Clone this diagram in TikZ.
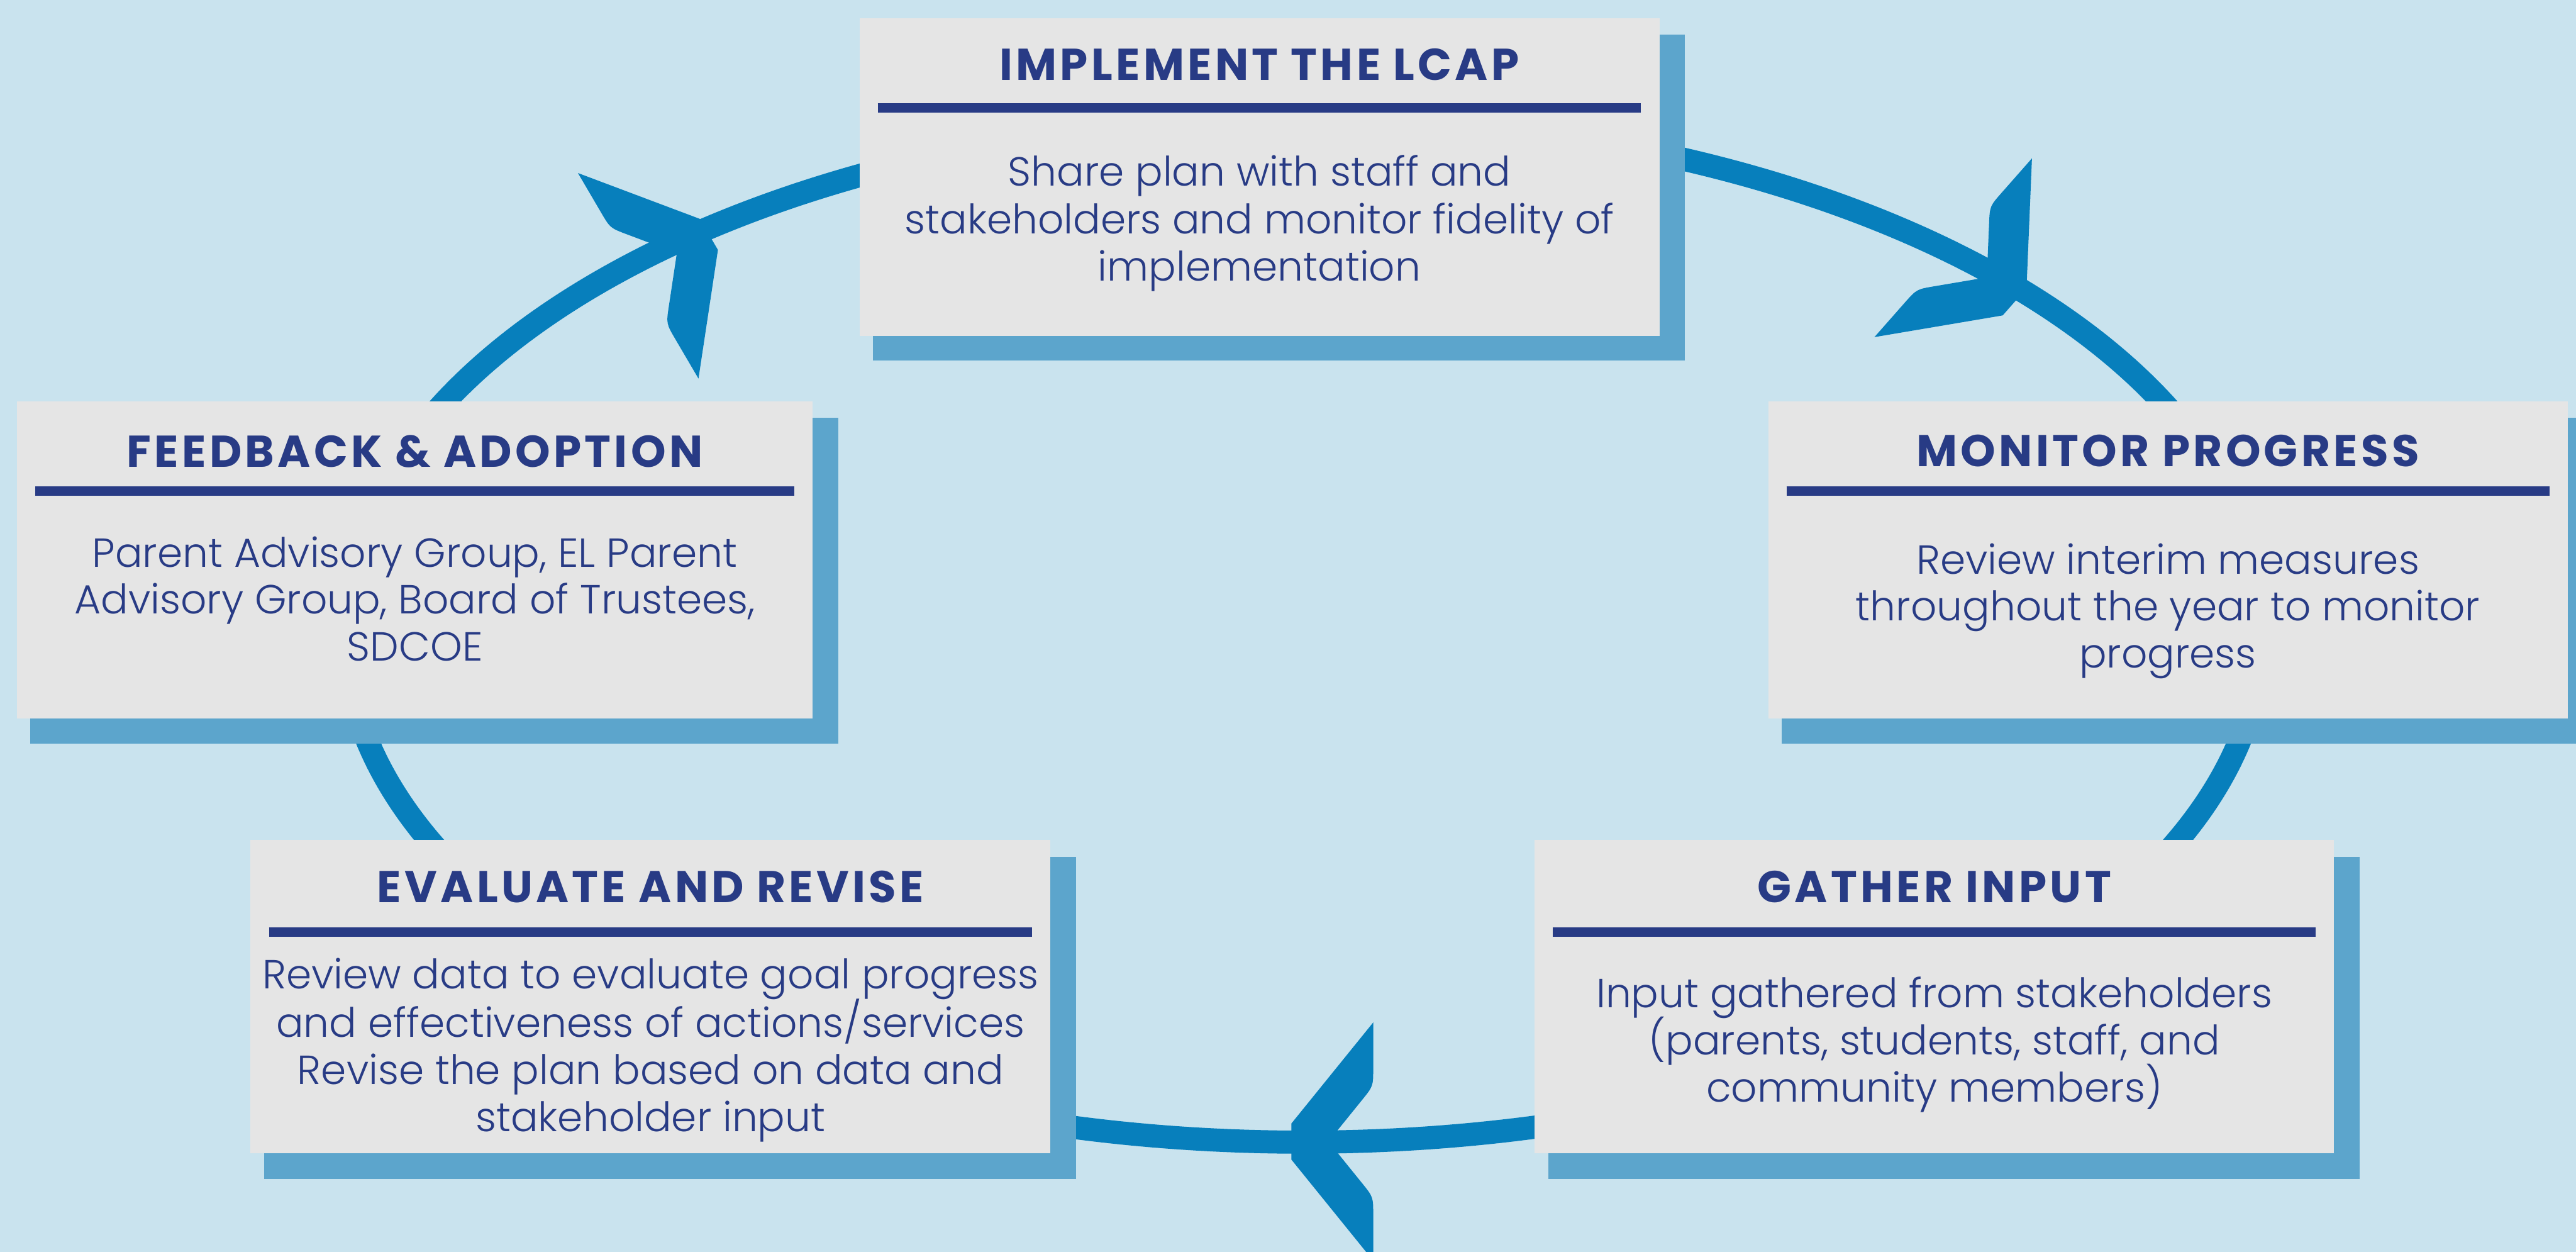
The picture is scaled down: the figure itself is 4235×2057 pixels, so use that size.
\documentclass[tikz,border=0pt]{standalone}
\usepackage{fontspec}
\setmainfont{Poppins}
\newfontfamily\titlefont{Poppins}[LetterSpace=7.5]
\newfontfamily\bodyfont{Poppins}[UprightFont=* Light]
\usetikzlibrary{fit}
\definecolor{bgblue}{HTML}{C9E3EE}
\definecolor{cardgray}{HTML}{E5E5E5}
\definecolor{shadowblue}{HTML}{5CA5CC}
\definecolor{ringblue}{HTML}{077FBC}
\definecolor{navy}{HTML}{283B85}
\begin{document}
\begin{tikzpicture}[x=0.25pt, y=-0.25pt,
  card/.style={fill=cardgray, inner sep=0pt, draw=none},
  cardshadow/.style={fill=shadowblue},
  headline/.style={font=\titlefont\fontsize{18.3}{22}\selectfont\bfseries, text=navy, anchor=base, inner sep=0pt},
  bodyline/.style={font=\bodyfont\fontsize{16.7}{19.5}\selectfont, text=navy, anchor=base, inner sep=0pt},
  rule/.style={draw=navy, line width=3.9pt},
  ring/.style={draw=ringblue, line width=9.5pt},
  chevron/.pic={
    \fill[ringblue] (-24,29.6) -- (-158.6,195.8) -- (-158.6,121)
      .. controls (-158.6,91) .. (-139.7,67.7) -- (-84.9,0)
      -- (-139.7,-67.7) .. controls (-158.6,-91) .. (-158.6,-121)
      -- (-158.6,-195.8) -- (-24,-29.6) -- cycle;
  }
]
% canvas
\useasboundingbox (0,0) rectangle (4235,2057);
\clip (0,0) rectangle (4235,2057);
\fill[bgblue] (0,0) rectangle (4235,2057);

% cycle ring with its arrowheads (clockwise flow)
\draw[ring] (2143,1035) ellipse [x radius=1576, y radius=842];
\pic[rotate=30.4] at (1186,373) {chevron};
\pic[rotate=-41.4] at (3330,512) {chevron};
\pic[rotate=180] at (2099,1876) {chevron};

% ---- Implement the LCAP
\fill[cardshadow] (1435,57) rectangle (2770,592);
\node[card, fit={(1413,30)(2728,552)}] (implement) {};
\node[headline] (implementT) at (2070.5,132) {IMPLEMENT THE LCAP};
\draw[rule] (1443,177) -- (2697,177);
\node[bodyline] (implement1) at (2070.5,306) {Share plan with staff and};
\node[bodyline] (implement2) at (2070.5,384) {stakeholders and monitor fidelity of};
\node[bodyline] (implement3) at (2070.5,462) {implementation};

% ---- Feedback & Adoption
\fill[cardshadow] (50,687) rectangle (1378,1222);
\node[card, fit={(28,660)(1336,1181)}] (feedback) {};
\node[headline] (feedbackT) at (682,768) {FEEDBACK \& ADOPTION};
\draw[rule] (58,807) -- (1306,807);
\node[bodyline] (feedback1) at (682,932) {Parent Advisory Group, EL Parent};
\node[bodyline] (feedback2) at (682,1009) {Advisory Group, Board of Trustees,};
\node[bodyline] (feedback3) at (682,1086) {SDCOE};

% ---- Monitor Progress
\fill[cardshadow] (2929,687) rectangle (4263,1222);
\node[card, fit={(2907,660)(4221,1181)}] (monitor) {};
\node[headline] (monitorT) at (3564,767) {MONITOR PROGRESS};
\draw[rule] (2937,807) -- (4191,807);
\node[bodyline] (monitor1) at (3564,943) {Review interim measures};
\node[bodyline] (monitor2) at (3564,1020) {throughout the year to monitor};
\node[bodyline] (monitor3) at (3564,1097) {progress};

% ---- Evaluate and Revise
\fill[cardshadow] (434,1408) rectangle (1769,1938);
\node[card, fit={(412,1380)(1727,1895)}] (evaluate) {};
\node[headline] (evaluateT) at (1069.5,1483) {EVALUATE AND REVISE};
\draw[rule] (442,1532) -- (1697,1532);
\node[bodyline] (evaluate1) at (1069.5,1625) {Review data to evaluate goal progress};
\node[bodyline] (evaluate2) at (1069.5,1704) {and effectiveness of actions/services};
\node[bodyline] (evaluate3) at (1069.5,1782) {Revise the plan based on data and};
\node[bodyline] (evaluate4) at (1069.5,1859) {stakeholder input};

% ---- Gather Input
\fill[cardshadow] (2545,1408) rectangle (3879,1938);
\node[card, fit={(2523,1380)(3837,1895)}] (gather) {};
\node[headline] (gatherT) at (3180,1483) {GATHER INPUT};
\draw[rule] (2553,1532) -- (3807,1532);
\node[bodyline] (gather1) at (3180,1656) {Input gathered from stakeholders};
\node[bodyline] (gather2) at (3180,1733) {(parents, students, staff, and};
\node[bodyline] (gather3) at (3180,1811) {community members)};
\end{tikzpicture}
\end{document}
